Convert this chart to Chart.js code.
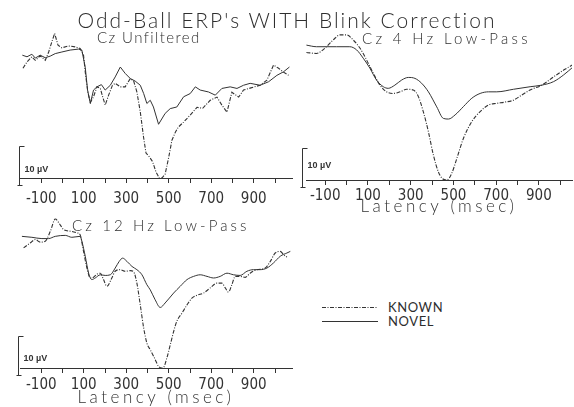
<!DOCTYPE html>
<html>
<head>
<meta charset="utf-8">
<title>Odd-Ball ERP's WITH Blink Correction</title>
<script src="https://cdn.jsdelivr.net/npm/chart.js@4.4.1/dist/chart.umd.min.js"></script>
<style>
  html, body { margin: 0; padding: 0; background: #fff; }
  body { width: 574px; height: 407px; position: relative; overflow: hidden; }
  canvas { position: absolute; }
  .txt { position: absolute; z-index: 2; white-space: nowrap; line-height: 1; color: #2e2e2e;
         font-family: Lato, 'DejaVu Sans', sans-serif; font-weight: 300; }
  #figTitle { left: 0; width: 574px; text-align: center; top: 9px; font-size: 21px; letter-spacing: 2px; }
  .panelTitle { font-size: 15px; }
  .legendRow { position: absolute; z-index: 2; left: 322px; height: 14px; }
  .legendRow svg { position: absolute; left: 0; top: 6px; }
  .legendRow span { position: absolute; left: 66px; top: 1px; font-family: Lato, 'DejaVu Sans', sans-serif; font-weight: 400;
                    font-size: 13px; line-height: 1; color: #2e2e2e; letter-spacing: 0.6px; }
</style>
</head>
<body>
<div id="figTitle" class="txt"></div>
<div id="t1" class="txt panelTitle" style="left:97px; top:30px; letter-spacing:1.4px;"></div>
<div id="t2" class="txt panelTitle" style="left:362px; top:31px; letter-spacing:3.3px;"></div>
<div id="t3" class="txt panelTitle" style="left:72px; top:218px; letter-spacing:3.1px;"></div>
<canvas id="c1" width="296" height="176" style="left:0; top:28px;"></canvas>
<canvas id="c2" width="284" height="192" style="left:290px; top:28px;"></canvas>
<canvas id="c3" width="296" height="198" style="left:0; top:212px;"></canvas>
<div id="legend"></div>

<script>
// ---- Text ----
const figureTitle = "Odd-Ball ERP's WITH Blink Correction";
const panelTitles = ['Cz Unfiltered', 'Cz 4 Hz Low-Pass', 'Cz 12 Hz Low-Pass'];
const seriesNames = ['KNOWN', 'NOVEL'];
const axisTitleText = 'Latency (msec)';
const scaleBarUv = 10;
const scaleBarLabel = '10 \u00b5V';

// ---- Latency axis ticks (ms) ----
const tickMs = [-100, 0, 100, 200, 300, 400, 500, 600, 700, 800, 900, 1000];
const tickLabelMs = [-100, 100, 300, 500, 700, 900];

// ---- Cz unfiltered: latency (ms) and amplitude (µV, positive plotted downward) ----
const unfKnownMs = [-186,-167,-144,-128,-105,-81,-65,-50,-37,-21,-3,28,59,83,99,107,119,131,146,162,178,189,201,217,235,248,272,295,319,335,350,366,382,393,409,424,440,456,468,483,499,515,531,545,570,600,633,660,695,727,750,774,797,829,852,883,930,962,993,1017,1040,1064];
const unfKnownUv = [4.1,2.1,0.5,1.6,0.2,1.6,-1.0,-4.2,-6.8,-3.1,-2.3,-2.9,-2.6,-2.1,0.0,5.2,11.5,14.8,13.0,9.9,10.4,13.0,15.6,12.5,9.4,8.8,9.9,9.9,7.3,8.1,11.5,17.7,25.9,30.6,31.8,33.3,36.5,38.5,38.4,37.2,32.2,26.6,24.1,22.5,20.9,18.8,16.3,16.6,14.1,13.1,15.6,17.8,11.6,13.1,10.9,10.3,9.4,7.8,3.1,4.1,5.3,6.3];
const unfNovelMs = [-189,-167,-144,-128,-105,-81,-58,-34,-3,36,75,91,107,118,131,146,162,183,201,225,248,272,295,319,342,366,382,397,413,428,452,483,507,538,570,601,625,648,687,719,750,789,821,852,883,930,970,1009,1040,1068];
const unfNovelUv = [0.0,0.5,-0.3,0.9,0.0,0.8,0.3,-0.5,-1.0,-1.6,-1.9,-1.6,3.8,10.9,15.1,10.9,9.9,9.2,10.9,9.4,6.8,3.7,5.7,7.3,8.1,9.4,12.0,15.1,14.1,16.2,21.6,18.2,16.7,16.2,13.0,12.0,9.9,10.9,11.5,12.5,10.4,9.9,10.4,9.4,8.8,9.4,8.3,6.3,5.2,3.7];

// ---- Cz 4 Hz low-pass ----
const lp4KnownMs = [-188,-141,-102,-63,-31,0,31,63,94,125,156,187,219,250,281,312,336,359,383,406,430,447,469,492,516,547,586,625,664,703,742,781,820,859,914,969,1016,1062];
const lp4KnownUv = [1.4,1.7,0.1,-2.5,-4.1,-4.1,-2.5,0.1,3.8,7.9,11.6,13.7,14.2,13.7,12.9,13.1,15.2,19.9,26.2,33.4,38.8,40.7,41.3,39.2,34.5,28.2,23.0,19.9,17.8,17.3,16.9,16.3,14.7,13.1,11.6,9.0,6.9,5.1];
const lp4NovelMs = [-188,-141,-94,-47,15,47,78,109,140,172,195,226,258,289,320,351,383,422,453,477,508,547,586,625,664,703,781,859,914,969,1016,1062];
const lp4NovelUv = [-0.9,-0.4,-0.4,-0.4,-0.4,0.6,3.2,6.3,10.0,12.1,12.6,11.6,10.0,9.2,9.5,11.0,13.7,18.4,22.0,22.2,20.9,18.3,15.7,14.2,13.7,13.7,12.9,12.1,11.6,10.5,8.4,5.8];

// ---- Cz 12 Hz low-pass ----
const lp12KnownMs = [-183,-152,-128,-105,-81,-57,-34,-10,5,37,68,83,99,115,131,146,162,178,193,209,232,248,272,295,319,335,350,366,382,397,413,433,452,468,476,491,507,523,538,562,586,609,633,664,695,727,750,766,781,797,813,836,860,883,915,954,978,1001,1025,1040,1056];
const lp12KnownUv = [3.4,1.9,0.8,1.6,1.3,-1.8,-5.6,-3.7,-2.3,-1.8,-1.3,-0.7,4.5,9.7,12.8,12.6,11.6,11.3,13.3,15.4,12.8,10.7,10.2,10.7,10.5,10.9,14.4,21.2,28.4,33.1,35.2,37.8,40.4,40.9,40.7,37.8,33.7,29.5,26.3,23.8,21.2,19.1,18.2,17.5,15.9,14.4,14.4,15.9,17.2,14.9,12.3,12.3,12.6,11.3,10.2,9.7,7.6,5.0,4.5,5.5,6.3];
const lp12NovelMs = [-191,-144,-97,-66,-34,13,44,83,91,107,123,138,154,178,201,225,248,267,283,303,327,350,374,397,413,436,460,483,523,554,586,617,648,680,711,742,774,805,836,868,899,930,962,993,1025,1056,1072];
const lp12NovelUv = [-0.2,0.1,0.5,0.5,-0.2,-0.5,0.1,-0.2,1.3,6.0,11.3,13.3,12.8,11.8,12.0,11.8,9.7,7.6,6.6,7.6,9.2,10.2,11.8,14.9,16.5,19.6,22.0,20.6,17.5,15.4,13.3,12.3,11.8,12.3,12.8,12.3,11.3,11.8,12.0,10.7,10.2,10.2,9.7,8.1,6.0,5.0,4.5];

// ---- Styling ----
const INK = '#333333';
const knownDash = [4, 1.5, 1, 1.5];
const tickFont = { family: "'Liberation Sans Narrow','DejaVu Sans Condensed','Arial Narrow',sans-serif", size: 15 };
const axisTitleFont = { family: "Lato,'DejaVu Sans',sans-serif", size: 17, weight: 300 };

// Wide tracking for the axis title only; tick labels (drawn after datasets, z:1) use none.
const tracking = {
  id: 'tracking',
  beforeDraw(chart) { chart.ctx.letterSpacing = '3.5px'; },
  afterDatasetsDraw(chart) { chart.ctx.letterSpacing = '0px'; }
};

// Vertical calibration bar at the left end of the latency axis.
const scaleBar = {
  id: 'scaleBar',
  afterDraw(chart, args, o) {
    const { ctx, chartArea } = chart;
    const y = chart.scales.y;
    const bx = Math.round(chartArea.left + o.dx) + 0.5;
    const base = y.getPixelForValue(y.max);
    const top = Math.round(y.getPixelForValue(y.max - scaleBarUv)) + 0.5;
    ctx.save();
    ctx.strokeStyle = INK;
    ctx.lineWidth = 1;
    ctx.beginPath();
    ctx.moveTo(bx, top); ctx.lineTo(bx, base + 7);
    ctx.moveTo(bx, top); ctx.lineTo(bx + 5, top);
    ctx.moveTo(bx - 2, Math.round(base + 7) + 0.5); ctx.lineTo(bx + 3, Math.round(base + 7) + 0.5);
    ctx.stroke();
    ctx.fillStyle = INK;
    ctx.font = "bold 9px 'Liberation Sans', sans-serif";
    ctx.textBaseline = 'middle';
    ctx.fillText(scaleBarLabel, bx + 5, base + o.labelDy);
    ctx.restore();
  }
};

const toPoints = (xs, ys) => xs.map((x, i) => ({ x, y: ys[i] }));

const panels = [
  { id: 'c1', knownMs: unfKnownMs, knownUv: unfKnownUv, novelMs: unfNovelMs, novelUv: unfNovelUv,
    xMin: -200, xMax: 1080, yMin: -8.5, yMax: 38.4, pad: { left: 20, right: 4, top: 0, bottom: 0 },
    axisH: 26, tickPad: 7, axisTitle: false, titlePad: 0, smooth: false, barDx: -1, labelDy: -8 },
  { id: 'c2', knownMs: lp4KnownMs, knownUv: lp4KnownUv, novelMs: lp4NovelMs, novelUv: lp4NovelUv,
    xMin: -190, xMax: 1055, yMin: -6.25, yMax: 41.25, pad: { left: 16, right: 2, top: 0, bottom: 0 },
    axisH: 40, tickPad: 2, axisTitle: true, titlePad: 3, smooth: true, barDx: -4, labelDy: -14 },
  { id: 'c3', knownMs: lp12KnownMs, knownUv: lp12KnownUv, novelMs: lp12NovelMs, novelUv: lp12NovelUv,
    xMin: -200, xMax: 1080, yMin: -7.8, yMax: 40.9, pad: { left: 20, right: 4, top: 0, bottom: 0 },
    axisH: 42, tickPad: 3, axisTitle: true, titlePad: 2, smooth: true, barDx: -2, labelDy: -9 }
];

panels.forEach((p) => {
  const lineStyle = {
    pointRadius: 0, fill: false, borderColor: INK,
    tension: p.smooth ? 0.4 : 0,
    cubicInterpolationMode: p.smooth ? 'monotone' : 'default'
  };
  new Chart(document.getElementById(p.id), {
    type: 'line',
    data: {
      datasets: [
        Object.assign({ label: seriesNames[0], data: toPoints(p.knownMs, p.knownUv), borderWidth: 1.1, borderDash: knownDash }, lineStyle),
        Object.assign({ label: seriesNames[1], data: toPoints(p.novelMs, p.novelUv), borderWidth: 1 }, lineStyle)
      ]
    },
    options: {
      responsive: false,
      animation: false,
      devicePixelRatio: 1,
      events: [],
      layout: { padding: p.pad },
      plugins: {
        legend: { display: false },
        tooltip: { enabled: false },
        title: { display: false },
        scaleBar: { dx: p.barDx, labelDy: p.labelDy }
      },
      scales: {
        x: {
          type: 'linear', position: 'bottom', min: p.xMin, max: p.xMax,
          afterBuildTicks: (s) => { s.ticks = tickMs.map((v) => ({ value: v })); },
          afterFit: (s) => { s.height = p.axisH; s.paddingLeft = 0; s.paddingRight = 0; },
          ticks: {
            z: 1, autoSkip: false, maxRotation: 0, minRotation: 0, padding: p.tickPad,
            color: INK, font: tickFont,
            callback: (v) => (tickLabelMs.includes(v) ? String(v) : '')
          },
          grid: { drawOnChartArea: false, drawTicks: true, tickLength: 5, color: INK, lineWidth: 1 },
          border: { display: true, color: INK, width: 1, dash: [3, 1] },
          title: { display: p.axisTitle, text: axisTitleText, color: INK, font: axisTitleFont,
                   padding: { top: 0, bottom: p.titlePad } }
        },
        y: { type: 'linear', display: false, reverse: true, min: p.yMin, max: p.yMax }
      }
    },
    plugins: [tracking, scaleBar]
  });
});

// ---- Titles and legend ----
document.getElementById('figTitle').textContent = figureTitle;
['t1', 't2', 't3'].forEach((id, i) => { document.getElementById(id).textContent = panelTitles[i]; });

const legend = document.getElementById('legend');
const legendTops = [300, 314];
const legendDash = [knownDash.join(' '), 'none'];
seriesNames.forEach((name, i) => {
  const row = document.createElement('div');
  row.className = 'legendRow';
  row.style.top = legendTops[i] + 'px';
  row.innerHTML = '<svg width="56" height="3"><line x1="0" y1="1.5" x2="56" y2="1.5" stroke="' + INK +
    '" stroke-width="1.1" stroke-dasharray="' + legendDash[i] + '"/></svg><span></span>';
  row.querySelector('span').textContent = name;
  legend.appendChild(row);
});
</script>
</body>
</html>
